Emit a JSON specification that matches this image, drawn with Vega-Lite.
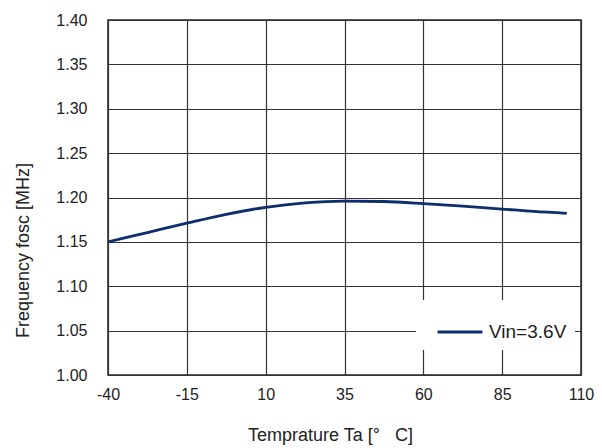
{
  "$schema": "https://vega.github.io/schema/vega-lite/v6.json",
  "width": 473,
  "height": 355,
  "autosize": "none",
  "padding": {"left": 108, "top": 20, "right": 21, "bottom": 73},
  "background": "white",
  "config": {
    "view": {"stroke": "#222", "strokeWidth": 1.5},
    "font": "Liberation Sans"
  },
  "data": {
    "values": [
      {"T": -40, "F": 1.150, "series": "Vin=3.6V"},
      {"T": -27.5, "F": 1.1605, "series": "Vin=3.6V"},
      {"T": -15, "F": 1.171, "series": "Vin=3.6V"},
      {"T": -2.5, "F": 1.181, "series": "Vin=3.6V"},
      {"T": 10, "F": 1.189, "series": "Vin=3.6V"},
      {"T": 22.5, "F": 1.194, "series": "Vin=3.6V"},
      {"T": 35, "F": 1.196, "series": "Vin=3.6V"},
      {"T": 47.5, "F": 1.1955, "series": "Vin=3.6V"},
      {"T": 60, "F": 1.1932, "series": "Vin=3.6V"},
      {"T": 72.5, "F": 1.1902, "series": "Vin=3.6V"},
      {"T": 85, "F": 1.1870, "series": "Vin=3.6V"},
      {"T": 95, "F": 1.1843, "series": "Vin=3.6V"},
      {"T": 105.5, "F": 1.1822, "series": "Vin=3.6V"}
    ]
  },
  "mark": {"type": "line", "interpolate": "monotone", "strokeWidth": 2.8, "clip": true},
  "encoding": {
    "x": {
      "field": "T",
      "type": "quantitative",
      "scale": {"domain": [-40, 110], "nice": false, "zero": false},
      "axis": {
        "title": "Temprature Ta [°\u00a0\u00a0\u00a0C]",
        "values": [-40, -15, 10, 35, 60, 85, 110],
        "labelExpr": "'' + datum.value",
        "grid": true,
        "gridColor": "#333",
        "gridWidth": 1.2,
        "gridOpacity": 1,
        "domain": false,
        "ticks": false,
        "labelPadding": 11,
        "labelFontSize": 16,
        "labelColor": "#222",
        "labelFlush": false,
        "titleFontSize": 18,
        "titleFontWeight": "normal",
        "titleColor": "#222",
        "titleX": 222,
        "titleY": 65,
        "titleBaseline": "alphabetic"
      }
    },
    "y": {
      "field": "F",
      "type": "quantitative",
      "scale": {"domain": [1.0, 1.4], "nice": false, "zero": false},
      "axis": {
        "title": "Frequency fosc [MHz]",
        "values": [1.0, 1.05, 1.1, 1.15, 1.2, 1.25, 1.3, 1.35, 1.4],
        "format": ".2f",
        "grid": true,
        "gridColor": "#333",
        "gridWidth": 1.2,
        "gridOpacity": 1,
        "domain": false,
        "ticks": false,
        "labelPadding": 21,
        "labelFontSize": 16,
        "labelColor": "#222",
        "labelFlush": false,
        "titleFontSize": 18,
        "titleFontWeight": "normal",
        "titleColor": "#222",
        "titleX": -76,
        "titleY": 230,
        "titleAngle": -90,
        "titleBaseline": "bottom",
        "titleAlign": "center"
      }
    },
    "color": {
      "field": "series",
      "type": "nominal",
      "scale": {"range": ["#0d2d6c"]},
      "legend": {
        "title": null,
        "orient": "none",
        "legendX": 308,
        "legendY": 280,
        "fillColor": "white",
        "strokeColor": null,
        "padding": 8,
        "symbolOffset": 12,
        "symbolType": "stroke",
        "symbolSize": 2025,
        "symbolStrokeWidth": 2.8,
        "labelFontSize": 19,
        "labelColor": "#222",
        "labelOffset": 5
      }
    }
  }
}
